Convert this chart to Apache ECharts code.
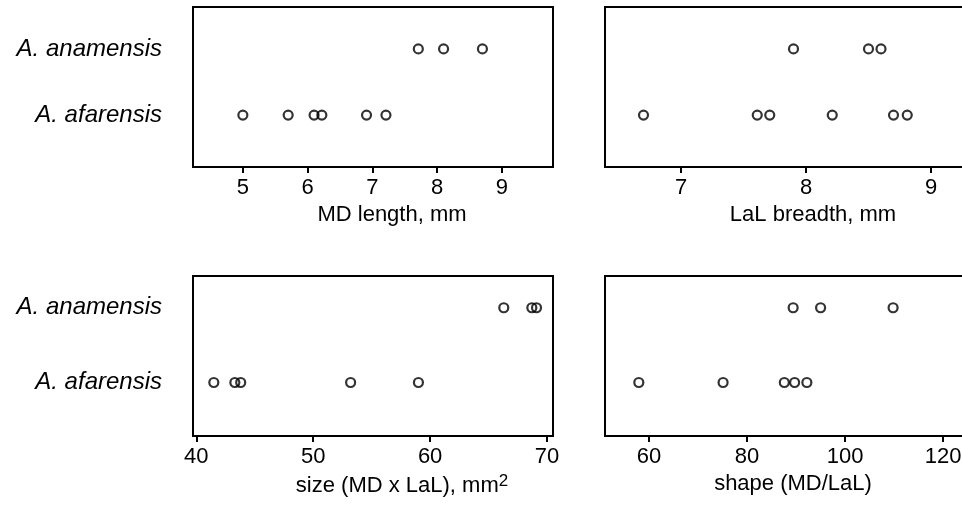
<!DOCTYPE html>
<html>
<head>
<meta charset="utf-8">
<script src="https://cdn.jsdelivr.net/npm/echarts@6/dist/echarts.min.js"></script>
<style>
html,body{margin:0;padding:0;background:#fff}
#main{width:962px;height:505px}
</style>
</head>
<body>
<div id="main"></div>
<script>
let species = ['A. afarensis', 'A. anamensis'];

// MD length, mm
let mdAnam = [7.71, 8.10, 8.70];
let mdAfar = [5.00, 5.70, 6.10, 6.22, 6.91, 7.21];
let mdTicks = [5, 6, 7, 8, 9];

// LaL breadth, mm
let lalAnam = [7.90, 8.50, 8.60];
let lalAfar = [6.70, 7.61, 7.71, 8.21, 8.70, 8.81];
let lalTicks = [7, 8, 9];

// size (MD x LaL), mm2
let sizeAnam = [66.3, 68.7, 69.1];
let sizeAfar = [41.5, 43.3, 43.8, 53.2, 59.0];
let sizeTicks = [40, 50, 60, 70];

// shape (MD/LaL)
let shapeAnam = [89.4, 95.0, 109.8];
let shapeAfar = [57.9, 75.1, 87.6, 89.7, 92.2];
let shapeTicks = [60, 80, 100, 120];

// right-hand boxes run past the page edge, as in the original figure
// shift = how far the axis title sits right of the box centre
let panels = [
	{ left: 193, top: 7, width: 360, min: 4.23, max: 9.79, ticks: mdTicks, name: 'MD length, mm', shift: 19, anam: mdAnam, afar: mdAfar, yMin: 0.216, yMax: 2.633, species: true },
	{ left: 605, top: 7, width: 366, min: 6.392, max: 9.32, ticks: lalTicks, name: 'LaL breadth, mm', shift: 25, anam: lalAnam, afar: lalAfar, yMin: 0.216, yMax: 2.633, species: false },
	{ left: 193, top: 276, width: 360, min: 39.72, max: 70.51, ticks: sizeTicks, name: 'size (MD x LaL), mm{sup|2}', shift: 29, anam: sizeAnam, afar: sizeAfar, yMin: 0.284, yMax: 2.425, species: true },
	{ left: 605, top: 276, width: 366, min: 51.0, max: 125.7, ticks: shapeTicks, name: 'shape (MD/LaL)', shift: 5, anam: shapeAnam, afar: shapeAfar, yMin: 0.284, yMax: 2.425, species: false }
];

let font = 'Liberation Sans, Arial, Helvetica, sans-serif';

let grids = [], xAxes = [], yAxes = [], series = [];
panels.forEach(function (p, i) {
	grids.push({
		left: p.left, top: p.top, width: p.width, height: 160,
		outerBoundsMode: 'none', containLabel: false,
		show: true, borderColor: '#000', borderWidth: 2, backgroundColor: 'transparent'
	});
	xAxes.push({
		gridIndex: i, type: 'value', min: p.min, max: p.max,
		splitLine: { show: false },
		axisLine: { show: false },
		axisTick: { show: true, customValues: p.ticks, length: 6, lineStyle: { color: '#000', width: 2 } },
		axisLabel: { customValues: p.ticks, margin: 10, color: '#000', fontSize: 22, fontFamily: font },
		name: p.name, nameLocation: 'middle', nameGap: 37,
		nameTextStyle: {
			color: '#000', fontSize: 22, fontFamily: font,
			padding: [0, 0, 0, p.shift * 2],
			rich: { sup: { fontSize: 17, color: '#000', fontFamily: font, verticalAlign: 'top', padding: [0, 0, 8, 0] } }
		}
	});
	yAxes.push({
		gridIndex: i, type: 'value', min: p.yMin, max: p.yMax,
		splitLine: { show: false },
		axisLine: { show: false },
		axisTick: { show: false },
		axisLabel: {
			show: p.species, customValues: [1, 2], margin: 31,
			color: '#000', fontSize: 24, fontStyle: 'italic', fontFamily: font,
			formatter: function (v) { return species[Math.round(v) - 1]; }
		}
	});
	let dot = {
		type: 'scatter', xAxisIndex: i, yAxisIndex: i,
		symbol: 'circle', symbolSize: 9,
		itemStyle: { color: 'rgba(0,0,0,0)', borderColor: '#000', borderWidth: 2.2 },
		silent: true
	};
	series.push(Object.assign({}, dot, { name: species[1], data: p.anam.map(function (v) { return [v, 2]; }) }));
	series.push(Object.assign({}, dot, { name: species[0], data: p.afar.map(function (v) { return [v, 1]; }) }));
});

let chart = echarts.init(document.getElementById('main'));
chart.setOption({
	animation: false,
	backgroundColor: '#fff',
	grid: grids,
	xAxis: xAxes,
	yAxis: yAxes,
	series: series
});
</script>
</body>
</html>
